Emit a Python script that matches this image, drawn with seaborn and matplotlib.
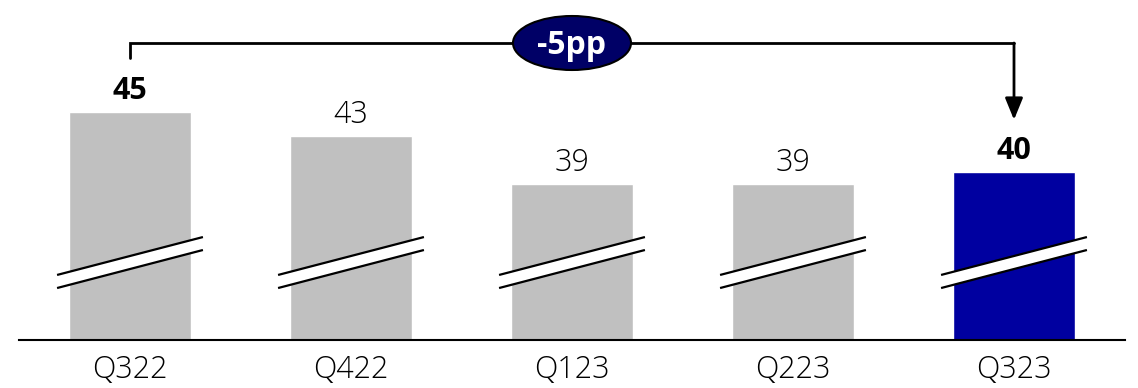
import matplotlib
matplotlib.use("Agg")
import matplotlib.pyplot as plt
import seaborn as sns
import pandas as pd
from matplotlib.patches import Ellipse, Polygon

# chart data
quarters = ["Q322", "Q422", "Q123", "Q223", "Q323"]
values = [45, 43, 39, 39, 40]
bar_colors = ["#C0C0C0", "#C0C0C0", "#C0C0C0", "#C0C0C0", "#0000A0"]
bold_labels = [True, False, False, False, True]
change_label = "-5pp"

df = pd.DataFrame({"quarter": quarters, "value": values})

sns.set_theme(style="white")
plt.rcParams["font.family"] = ["Open Sans", "DejaVu Sans"]

fig = plt.figure(figsize=(11.38, 3.88), dpi=100)
ax = fig.add_axes([0, 48 / 388, 1, 340 / 388])

sns.barplot(data=df, x="quarter", y="value", hue="quarter",
            palette=bar_colors, width=0.55, legend=False, ax=ax,
            saturation=1)

y0 = 26  # axis is broken; bars start here
ax.set_xlim(-130 / 221, (1138 - 130) / 221)
ax.set_ylim(y0, y0 + 340 / 12)

# value labels
for i, (v, b) in enumerate(zip(values, bold_labels)):
    ax.text(i, v + 1.1, str(v), ha="center", va="baseline", fontsize=22,
            fontweight="bold" if b else "light", color="black")

# break marks on every bar
for i in range(len(values)):
    top = [(i - 0.33, y0 + 5.42), (i + 0.33, y0 + 8.58)]
    bot = [(i - 0.33, y0 + 4.33), (i + 0.33, y0 + 7.5)]
    ax.add_patch(Polygon(top + bot[::-1], closed=True, facecolor="white",
                         edgecolor="none", zorder=3))
    for ln in (top, bot):
        ax.plot([p[0] for p in ln], [p[1] for p in ln], color="black",
                lw=1.6, zorder=4, solid_capstyle="butt")

# bracket from first to last bar
first, last = 0, len(values) - 1
y_top = max(values) + 5.75
ax.plot([first, first, last], [values[first] + 4.5, y_top, y_top],
        color="black", lw=2, zorder=5, solid_joinstyle="miter")
ax.annotate("", xy=(last, values[last] + 4.35), xytext=(last, y_top),
            arrowprops=dict(arrowstyle="-|>,head_width=0.45,head_length=1.1",
                            color="black", lw=2, shrinkA=0, shrinkB=0),
            zorder=5)
mid = (first + last) / 2
ax.add_patch(Ellipse((mid, y_top), width=118 / 221, height=54 / 12,
                     facecolor="#000066", edgecolor="black", lw=1.5,
                     zorder=6, clip_on=False))
ax.text(mid, y_top - 0.2, change_label, ha="center", va="center",
        color="white", fontsize=23, fontweight="bold", zorder=7)

# axes styling
sns.despine(ax=ax, left=True)
ax.spines["bottom"].set_bounds(-0.5, 4.5)
ax.spines["bottom"].set_color("black")
ax.spines["bottom"].set_linewidth(1.5)
ax.set_yticks([])
ax.set_xlabel("")
ax.set_ylabel("")
ax.tick_params(axis="x", length=0, pad=10, labelsize=22, labelcolor="black")
for lbl in ax.get_xticklabels():
    lbl.set_fontweight("light")

fig.savefig("out.png", dpi=100)
